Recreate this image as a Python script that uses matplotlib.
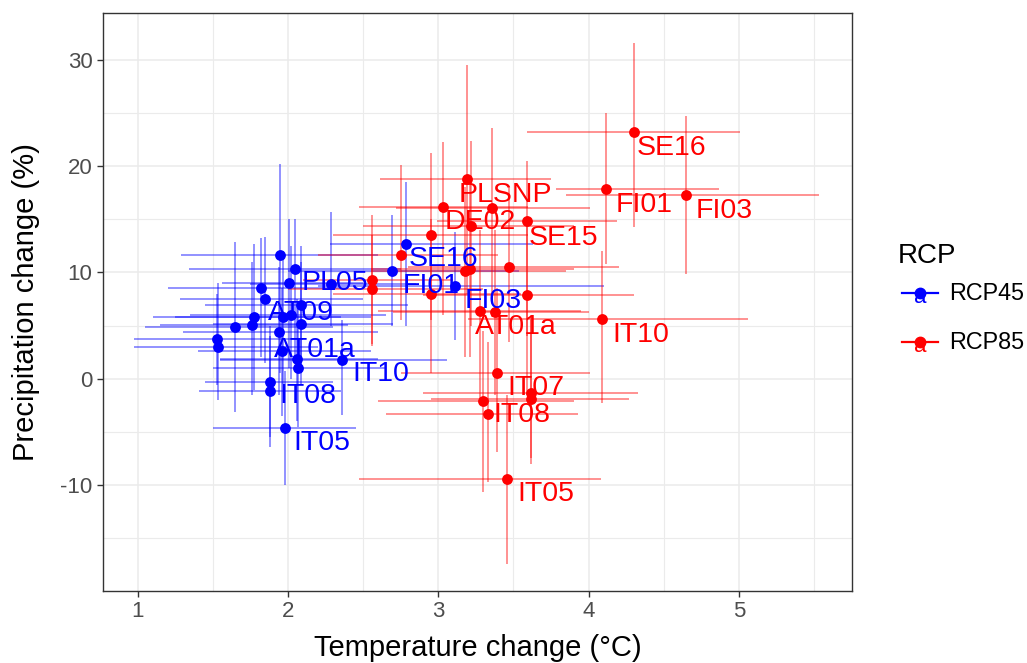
import numpy as np
import matplotlib
matplotlib.use("Agg")
import matplotlib.pyplot as plt
from matplotlib.legend_handler import HandlerBase
from matplotlib.lines import Line2D
from matplotlib.text import Text

plt.rcParams['font.family'] = ['Liberation Sans', 'DejaVu Sans']
plt.rcParams['axes.unicode_minus'] = False

# RCP45 (blue): point, temperature range, precipitation range, label
t45 = [1.95, 2.05, 2.01, 1.82, 1.85, 2.09, 1.965, 2.02, 1.775, 1.76, 1.65, 2.085, 1.94,
       1.53, 1.535, 1.96, 2.06, 2.07, 2.36, 1.88, 1.88, 1.98, 2.29, 2.785, 2.69, 3.11]
p45 = [11.65, 10.3, 8.97, 8.53, 7.46, 6.90, 5.80, 6.02, 5.83, 5.08, 4.89, 5.17, 4.39,
       3.76, 2.98, 2.60, 1.88, 1.00, 1.72, -0.35, -1.19, -4.64, 8.9, 12.7, 10.16, 8.75]
t45_lo = [1.29, 1.34, 1.56, 1.20, 1.28, 1.45, 1.25, 1.35, 1.10, 1.15, 1.05, 1.50, 1.30,
          0.98, 0.98, 1.40, 1.55, 1.50, 1.55, 1.45, 1.41, 1.50, 1.75, 2.28, 2.00, 2.20]
t45_hi = [2.60, 2.75, 2.50, 2.40, 2.50, 2.80, 2.55, 2.65, 2.35, 2.40, 2.30, 2.70, 2.60,
          2.10, 2.20, 2.55, 2.60, 2.65, 3.06, 2.30, 2.35, 2.45, 2.85, 3.63, 3.54, 4.10]
p45_lo = [0.5, 1.5, 1.0, 2.0, 1.5, 0.5, -0.5, 0.0, -1.1, -1.5, -3.1, -0.5, -1.5,
          -0.6, -2.0, -3.5, -4.0, -4.5, -3.45, -5.5, -6.4, -10.0, 5.0, 5.0, 5.0, 3.6]
p45_hi = [20.2, 15.0, 15.0, 13.2, 13.3, 12.5, 12.0, 12.5, 12.7, 11.0, 12.9, 11.0, 10.5,
          8.0, 9.0, 8.5, 7.5, 7.0, 5.5, 5.0, 4.0, 0.7, 15.7, 18.5, 15.4, 13.8]
lab45 = ['', 'PL05', '', '', 'AT09', '', '', '', '', '', '', '', 'AT01a',
         '', '', '', '', '', 'IT10', 'IT08', '', 'IT05', '', 'SE16', 'FI01', 'FI03']

# RCP85 (red)
t85 = [2.56, 2.56, 2.75, 2.955, 2.95, 3.18, 3.21, 3.47, 3.59, 3.28, 3.38, 4.09, 3.39,
       3.62, 3.615, 3.30, 3.33, 3.46, 4.30, 4.115, 4.647, 3.19, 3.36, 3.59, 3.215, 3.03]
p85 = [9.25, 8.47, 11.67, 13.57, 8.0, 10.13, 10.35, 10.56, 7.84, 6.36, 6.27, 5.58, 0.50,
       -1.32, -1.95, -2.13, -3.29, -9.41, 23.26, 17.87, 17.31, 18.75, 16.05, 14.8, 14.36, 16.2]
t85_lo = [2.10, 2.00, 2.20, 2.30, 2.30, 2.55, 2.55, 2.80, 2.90, 2.60, 2.70, 3.20, 2.75,
          2.90, 2.95, 2.60, 2.65, 2.47, 3.59, 3.78, 3.85, 2.61, 2.72, 2.99, 2.50, 2.47]
t85_hi = [3.10, 3.30, 3.40, 3.60, 3.55, 3.85, 3.90, 4.20, 4.30, 3.95, 4.00, 5.06, 4.01,
          4.33, 4.27, 3.90, 3.93, 4.08, 5.01, 4.87, 5.53, 3.75, 4.01, 4.19, 3.90, 3.60]
p85_lo = [3.3, 3.1, 5.5, 5.5, 0.5, 2.0, 2.0, 3.5, -1.5, -2.0, -1.5, -2.26, -6.9,
          -7.5, -8.0, -10.7, -9.7, -17.4, 14.3, 10.8, 9.9, 8.0, 7.0, 4.0, 5.0, 6.0]
p85_hi = [13.5, 15.4, 20.1, 21.2, 15.0, 18.0, 19.0, 18.0, 15.0, 14.0, 14.0, 12.0, 8.5,
          6.0, 5.5, 4.5, 3.5, -1.5, 31.6, 25.0, 24.7, 29.5, 23.6, 20.5, 22.4, 22.3]
lab85 = ['', '', '', '', '', '', '', '', '', 'AT01a', '', 'IT10', 'IT07',
         '', '', 'IT08', '', 'IT05', 'SE16', 'FI01', 'FI03', 'PLSNP', '', 'SE15', '', 'DE02']

# where each label sits relative to its point, in pixels (right, down)
nudge45 = {'PL05': (6, 1), 'AT09': (3, 1), 'AT01a': (-5, 5), 'IT10': (10, 1), 'IT08': (10, 1),
           'IT05': (9, 2), 'SE16': (3, 2), 'FI01': (11, 2), 'FI03': (10, 2)}
nudge85 = {'SE16': (3, 3), 'FI01': (10, 3), 'FI03': (10, 3), 'PLSNP': (-8, 3), 'DE02': (2, 2),
           'SE15': (2, 4), 'AT01a': (-5, 3), 'IT10': (10, 3), 'IT07': (10, 2), 'IT08': (10, 1),
           'IT05': (10, 2)}

series = [
    ('RCP45', '#0000FF', t45, p45, t45_lo, t45_hi, p45_lo, p45_hi, lab45, nudge45),
    ('RCP85', '#FF0000', t85, p85, t85_lo, t85_hi, p85_lo, p85_hi, lab85, nudge85),
]


class KeyHandler(HandlerBase):
    # ggplot-style key: line + point + 'a'
    def create_artists(self, legend, orig_handle, xdescent, ydescent, width, height, fontsize, trans):
        c = orig_handle.get_color()
        sh = 3
        yc = height / 2 - ydescent
        xc = width / 2 - xdescent + sh
        line = Line2D([-xdescent + sh, width - xdescent + sh], [yc, yc], color=c, lw=1.6,
                      transform=trans)
        dot = Line2D([xc], [yc], marker='o', ms=7.5, color=c, lw=0, transform=trans)
        txt = Text(xc, yc - 3, 'a', color=c, ha='center', va='center', fontsize=16,
                   transform=trans)
        return [line, dot, txt]


fig = plt.figure(figsize=(10.27, 6.63), dpi=100)
ax = fig.add_axes([0.1003, 0.1086, 0.7293, 0.8718])

for name, col, t, p, tlo, thi, plo, phi, labs, nudge in series:
    t = np.array(t); p = np.array(p)
    xerr = [t - np.array(tlo), np.array(thi) - t]
    yerr = [p - np.array(plo), np.array(phi) - p]
    ax.errorbar(t, p, xerr=xerr, yerr=yerr, fmt='none', ecolor=col, elinewidth=1.2,
                alpha=0.5, capsize=0, zorder=2)

handles = []
for name, col, t, p, tlo, thi, plo, phi, labs, nudge in series:
    ax.plot(t, p, 'o', color=col, ms=7.8, mew=0, zorder=3)
    handles.append(Line2D([], [], color=col, label=name))

for name, col, t, p, tlo, thi, plo, phi, labs, nudge in series:
    for xi, yi, lab in zip(t, p, labs):
        if not lab:
            continue
        dx, dy = nudge[lab]
        ax.annotate(lab, (xi, yi), xytext=(dx, -dy), textcoords='offset pixels',
                    ha='left', va='top', fontsize=20.5, color=col, zorder=4)

ax.set_xlim(0.7706, 5.7515)
ax.set_ylim(-19.98, 34.42)
ax.set_xticks([1, 2, 3, 4, 5])
ax.set_yticks([-10, 0, 10, 20, 30])
ax.set_xticks([1.5, 2.5, 3.5, 4.5, 5.5], minor=True)
ax.set_yticks([-15, -5, 5, 15, 25], minor=True)
ax.grid(which='major', color='#EBEBEB', lw=1.1, zorder=0)
ax.grid(which='minor', color='#EBEBEB', lw=0.8, zorder=0)
ax.set_axisbelow(True)
ax.tick_params(which='major', length=4.5, width=1, color='#333333', labelcolor='#4D4D4D',
               labelsize=16, pad=3)
ax.tick_params(which='minor', length=0)
for s in ax.spines.values():
    s.set_color('#333333')
    s.set_linewidth(1)

ax.set_xlabel('Temperature change (°C)', fontsize=21)
ax.set_ylabel('Precipitation change (%)', fontsize=21)
ax.xaxis.set_label_coords(0.5, -0.0744)
ax.yaxis.set_label_coords(-0.0841, 0.5)

leg = ax.legend(handles=handles, handler_map={Line2D: KeyHandler()}, title='RCP',
                loc='upper left', bbox_to_anchor=(0.8745, 0.634), bbox_transform=fig.transFigure,
                frameon=False, fontsize=16.8, title_fontsize=20, alignment='left',
                handlelength=1.55, handleheight=2.85, handletextpad=0.63, labelspacing=0,
                borderpad=0, borderaxespad=0)

fig.savefig('out.png', dpi=100)
